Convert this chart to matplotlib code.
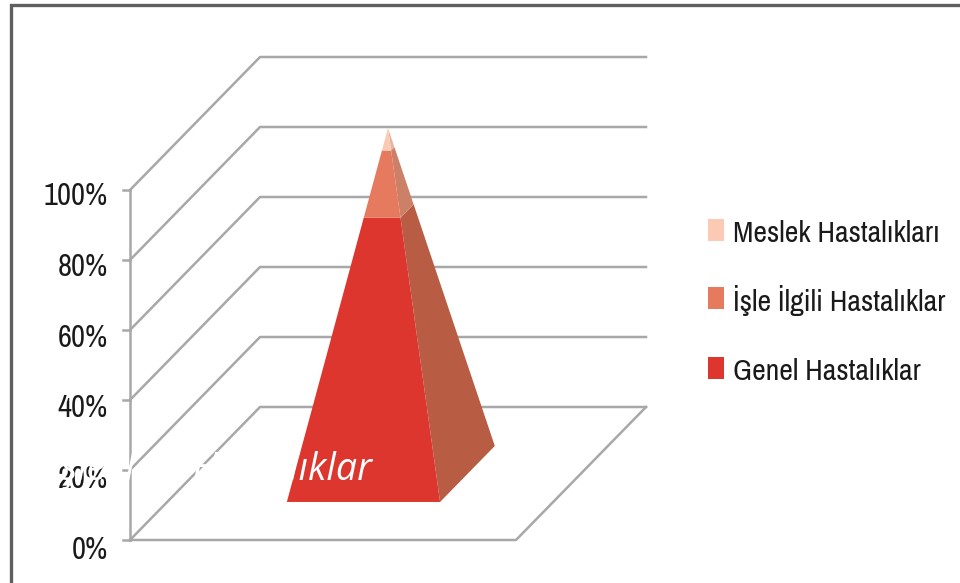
from matplotlib import pyplot as plt
from matplotlib import font_manager as fm
from matplotlib.patches import Polygon, Rectangle

# share of each stack, bottom to top
series_names = ['Genel Hastalıklar', 'İşle İlgili Hastalıklar', 'Meslek Hastalıkları']
series_values = [76, 18, 6]
front_colors = ['#dc362e', '#e67a5f', '#fcc9b4']
side_colors = ['#b85d44', '#cc8068', '#e3b49f']
tick_values = [0, 20, 40, 60, 80, 100]
tick_labels = ['0%', '20%', '40%', '60%', '80%', '100%']
overlay_label = 'İşle İlgili Hastalıklar'

GRID = '#a8a8a8'
TEXT = '#1a1a1a'

#narrow face if there is one, the wide one needs a smaller size to fit
names = {f.name for f in fm.fontManager.ttflist}
if 'Archivo Narrow' in names:
    label_font, tick_size, legend_size = 'Archivo Narrow', 22, 21.5
else:
    label_font, tick_size, legend_size = 'Liberation Sans', 18, 17.5


def project(xf, depth, pct): #front-left corner of the floor is 0,0,0
    return (130 + 386*xf + 130*depth, 540 - 133*depth - 3.5*pct)


fig = plt.figure(figsize=(9.6, 5.83), dpi=100)
ax = fig.add_axes([0, 0, 1, 1])
ax.set_xlim(0, 960)
ax.set_ylim(583, 0)
ax.axis('off')

#frame
ax.plot([10.5, 10.5, 960], [583, 5, 5], color='#5f5f5f', lw=2.4, solid_joinstyle='miter')

#walls, floor and gridlines
for v in tick_values:
    pts = [project(0, 0, v), project(0, 1, v), project(1, 1, v)]
    ax.plot([p[0] for p in pts], [p[1] for p in pts], color=GRID, lw=1.8)
    x0, y0 = project(0, 0, v)
    ax.plot([x0-7, x0], [y0, y0], color=GRID, lw=1.8)
floor = [project(0, 0, 0), project(1, 0, 0), project(1, 1, 0)]
ax.plot([p[0] for p in floor], [p[1] for p in floor], color=GRID, lw=1.8)
wall = [project(0, 0, 0), project(0, 0, 100)]
ax.plot([p[0] for p in wall], [p[1] for p in wall], color=GRID, lw=1.8)

for v, lab in zip(tick_values, tick_labels):
    y = project(0, 0, v)[1]
    ax.text(108, y + 6 + 4*(100-v)/100, lab, ha='right', va='center', fontsize=tick_size,
            family=label_font, color=TEXT)

#pyramid, each stack cut between the base corners and the apex
base_fl = project(0.31, 0.286, 0)
base_fr = project(0.707, 0.286, 0)
base_br = project(0.707, 0.707, 0)
apex = project(0.5, 0.5, 98.7)


def along(p, t):
    return (p[0] + (apex[0]-p[0])*t/100, p[1] + (apex[1]-p[1])*t/100)


bottom = 0
for val, fc, sc in zip(series_values, front_colors, side_colors):
    top = bottom + val
    ax.add_patch(Polygon([along(base_fr, bottom), along(base_br, bottom),
                          along(base_br, top), along(base_fr, top)],
                         closed=True, fc=sc, ec='none', zorder=3))
    ax.add_patch(Polygon([along(base_fl, bottom), along(base_fr, bottom),
                          along(base_fr, top), along(base_fl, top)],
                         closed=True, fc=fc, ec='none', zorder=4))
    bottom = top

#legend, top entry first
legend_y = [230, 297.5, 368]
for name, col, y in zip(series_names[::-1], front_colors[::-1], legend_y):
    ax.add_patch(Rectangle((708, y-11), 16, 22, fc=col, ec='none'))
    ax.text(733, y + 3, name, ha='left', va='center', fontsize=legend_size,
            family=label_font, color=TEXT)

#white label left over on top of the chart
ax.text(372, 467, overlay_label, ha='right', va='center', fontsize=27, style='italic',
        family=['Open Sans', 'DejaVu Sans'], color='white', zorder=6)

fig.savefig('out.png', dpi=100)
